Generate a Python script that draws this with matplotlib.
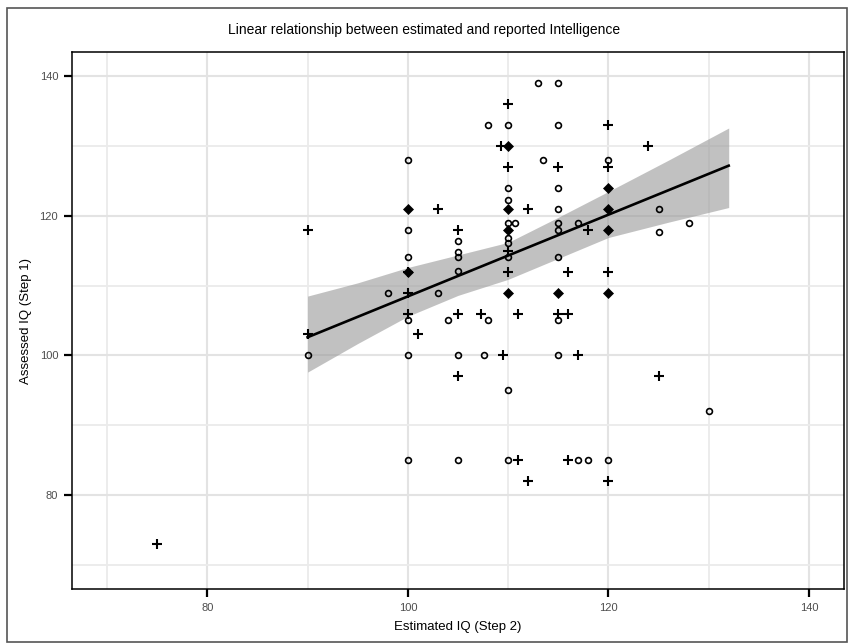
import numpy as np
import matplotlib
matplotlib.use("Agg")
import matplotlib.pyplot as plt
from matplotlib.patches import Rectangle

plt.rcParams['font.family'] = ['Liberation Sans', 'DejaVu Sans']

# open circles
circ_x = [113, 115, 108, 110, 115, 100, 113.5, 120, 110, 115, 110, 115, 125,
          110, 110.7, 115, 117, 128, 100, 115, 125, 110, 110, 105, 105, 105,
          100, 110, 115, 105, 98, 103, 100, 104, 108, 115, 90, 100, 105,
          107.6, 115, 110, 130, 100, 105, 110, 117, 118, 120]
circ_y = [139, 139, 133, 133, 133, 128, 128, 128, 124, 124, 122.3, 121, 121,
          119, 119, 119, 119, 119, 118, 118, 117.7, 116.8, 116.1, 116.4, 114.8, 114.1,
          114.1, 114.1, 114.1, 112.1, 109, 109, 105, 105, 105, 105, 100, 100, 100,
          100, 100, 95, 92, 85, 85, 85, 85, 85, 85]

# plus signs
plus_x = [110, 120, 109.3, 124, 110, 115, 120, 103, 112, 90, 105, 118, 110,
          110, 116, 120, 100, 100, 100, 105, 107.3, 111, 115, 116, 90, 101,
          109.5, 117, 105, 125, 111, 116, 112, 120, 75]
plus_y = [136, 133, 130, 130, 127, 127, 127, 121, 121, 118, 118, 118, 115,
          112, 112, 112, 112, 109, 106, 106, 106, 106, 106, 106, 103, 103,
          100, 100, 97, 97, 85, 85, 82, 82, 73]

# filled diamonds
diam_x = [110, 100, 110, 120, 120, 110, 120, 100, 110, 115, 120]
diam_y = [130, 121, 121, 124, 121, 118, 118, 112, 109, 109, 109]

# fitted line and confidence band
fit_x = [90, 132]
fit_y = [102.6, 127.2]
band_x = [90, 95, 100, 105, 110, 115, 120, 126, 132]
band_lo = [97.6, 101.7, 105.6, 108.6, 110.9, 113.9, 116.9, 119.1, 121.2]
band_hi = [108.5, 110.4, 112.6, 114.4, 116.2, 119.8, 123.5, 128.0, 132.6]

fig = plt.figure(figsize=(8.49, 6.43), dpi=100)
W, H = 849, 643
ax = fig.add_axes([72 / W, 1 - 589 / H, (844 - 72) / W, (589 - 52) / H])

# outer frame round the whole plot
fig.patches.append(Rectangle((7 / W, 1 / H), 840 / W, 634 / H, transform=fig.transFigure,
                             fill=False, edgecolor='#555555', lw=1.2))

ax.set_xlim(66.5, 143.5)
ax.set_ylim(66.5, 143.5)
ticks = [80, 100, 120, 140]
ax.set_xticks(ticks)
ax.set_yticks(ticks)
ax.set_xticks([70, 90, 110, 130], minor=True)
ax.set_yticks([70, 90, 110, 130], minor=True)
ax.grid(which='major', color='#e3e3e3', lw=1.5)
ax.grid(which='minor', color='#ebebeb', lw=1.3)
ax.set_axisbelow(True)
ax.tick_params(which='major', length=6, width=1.6, color='black', labelsize=8,
               labelcolor='#4d4d4d', pad=4)
ax.tick_params(which='minor', length=0)
for s in ax.spines.values():
    s.set_linewidth(1.1)
    s.set_color('black')

ax.fill_between(band_x, band_lo, band_hi, color='#999999', alpha=0.6, lw=0, zorder=2)
ax.plot(fit_x, fit_y, color='black', lw=1.9, zorder=3)

ax.plot(circ_x, circ_y, 'o', ms=4.2, mfc='none', mec='black', mew=1.2, zorder=4)
ax.plot(plus_x, plus_y, '+', ms=6.5, mec='black', mew=1.5, zorder=4)
ax.plot(diam_x, diam_y, 'D', ms=5.2, mfc='black', mec='black', mew=0.5, zorder=4)

ax.set_xlabel('Estimated IQ (Step 2)', fontsize=9.5)
ax.set_ylabel('Assessed IQ (Step 1)', fontsize=9.5)
ax.xaxis.set_label_coords(0.5, -0.06)
ax.yaxis.set_label_coords(-0.052, 0.5)

fig.text(424 / W, 1 - 30 / H, 'Linear relationship between estimated and reported Intelligence',
         ha='center', va='center', fontsize=10)

fig.savefig('out.png', dpi=100)
